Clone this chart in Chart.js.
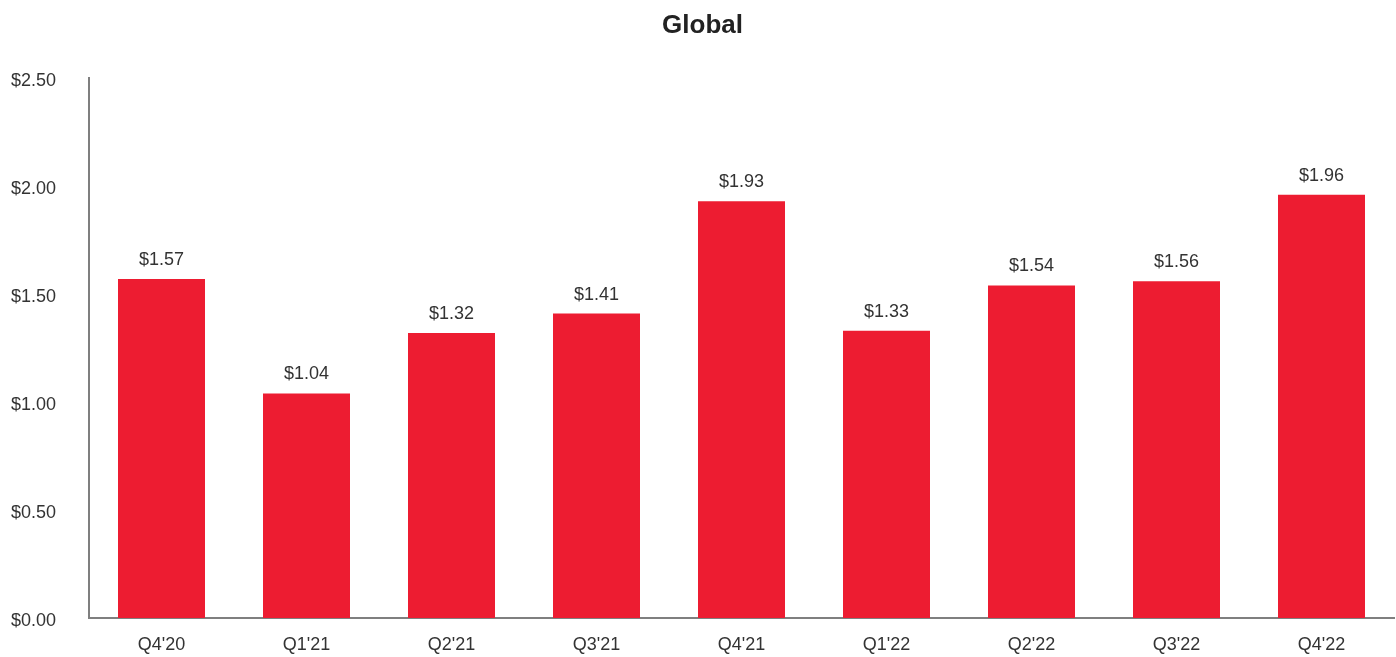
<!DOCTYPE html>
<html>
<head>
<meta charset="utf-8">
<script src="https://cdn.jsdelivr.net/npm/chart.js@4/dist/chart.umd.min.js"></script>
<style>
  html, body { margin: 0; padding: 0; background: #fff; }
  #wrap { width: 1396px; height: 657px; }
</style>
</head>
<body>
<div id="wrap"><canvas id="c" width="1396" height="657"></canvas></div>
<script>
const categories = ["Q4'20", "Q1'21", "Q2'21", "Q3'21", "Q4'21", "Q1'22", "Q2'22", "Q3'22", "Q4'22"];
const values = [1.57, 1.04, 1.32, 1.41, 1.93, 1.33, 1.54, 1.56, 1.96];
const yTicks = [0, 0.5, 1.0, 1.5, 2.0, 2.5];
const chartTitle = "Global";

const FONT = "'Liberation Sans', Arial, sans-serif";
const TEXT = '#333333';

const valueLabels = {
  id: 'valueLabels',
  afterDatasetsDraw(chart) {
    const ctx = chart.ctx;
    const meta = chart.getDatasetMeta(0);
    ctx.save();
    ctx.font = '18px ' + FONT;
    ctx.fillStyle = TEXT;
    ctx.textAlign = 'center';
    ctx.textBaseline = 'middle';
    meta.data.forEach((bar, i) => {
      ctx.fillText('$' + values[i].toFixed(2), bar.x, bar.y - 19);
    });
    ctx.restore();
  }
};

new Chart(document.getElementById('c'), {
  type: 'bar',
  data: {
    labels: categories,
    datasets: [{
      data: values,
      backgroundColor: '#ED1C31',
      borderWidth: 0,
      categoryPercentage: 0.6,
      barPercentage: 1.0
    }]
  },
  options: {
    responsive: false,
    animation: false,
    layout: { padding: { left: 11, right: 2, top: 0, bottom: 1 } },
    plugins: {
      legend: { display: false },
      tooltip: { enabled: false },
      title: {
        display: true,
        text: chartTitle,
        color: '#222222',
        font: { family: FONT, size: 26, weight: 'bold' },
        padding: { top: 10, bottom: 37 }
      }
    },
    scales: {
      x: {
        afterFit(axis) { axis.height = 38; },
        grid: { display: false, drawTicks: false },
        border: { display: true, color: '#7f7f7f', width: 2 },
        ticks: { color: TEXT, font: { family: FONT, size: 18 }, padding: 16 }
      },
      y: {
        min: 0,
        max: 2.5,
        afterFit(axis) { axis.width = 78; },
        afterBuildTicks(axis) { axis.ticks = yTicks.map(v => ({ value: v })); },
        grid: { display: false, drawTicks: false },
        border: { display: true, color: '#7f7f7f', width: 2 },
        ticks: {
          color: TEXT,
          font: { family: FONT, size: 18 },
          padding: 0,
          crossAlign: 'far',
          labelOffset: 3,
          callback: v => '$' + Number(v).toFixed(2)
        }
      }
    }
  },
  plugins: [valueLabels]
});
</script>
</body>
</html>
